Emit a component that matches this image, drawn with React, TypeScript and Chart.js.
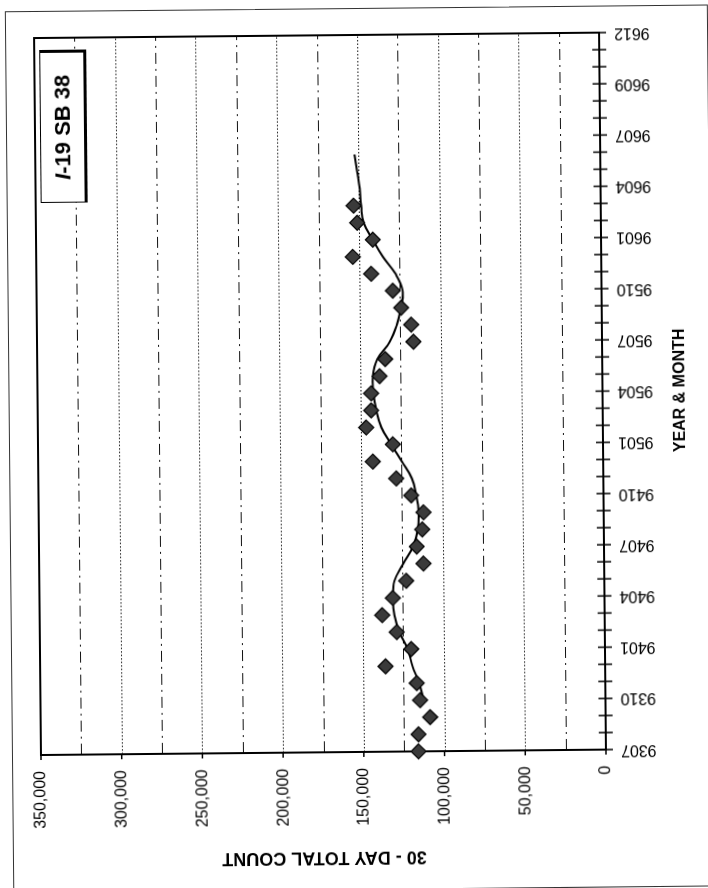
import React, { useEffect, useRef } from 'react';
import { Chart, registerables } from 'chart.js';

Chart.register(...registerables);

// ---- data ----
const MONTH_TICK_LABELS = ['9307', '9310', '9401', '9404', '9407', '9410', '9501', '9504', '9507', '9510', '9601', '9604', '9607', '9609', '9612'];
const MONTH_POSITIONS = 43; // month positions 0..42 on the category axis
const LABEL_EVERY = 3;

const COUNT_VALUES = [
  116100, 116000, 108700, 114800, 116800, 136000, 120000, 128900, 137800, 131100,
  122700, 111900, 116000, 112500, 111600, 119100, 128300, 142700, 130200, 146600,
  143400, 143300, 138000, 134400, 116800, 118100, 124200, 129300, 142600, 153900,
  141400, 151000, 153100,
];

const TREND_START = 3;
const TREND_VALUES = [
  112500, 115400, 119300, 122200, 127300, 130300, 131000, 130000, 124500, 118300,
  115200, 114600, 116000, 118600, 124800, 131200, 137200, 140200, 141900, 142200,
  139300, 131500, 127000, 124400, 123200, 127600, 135300, 141400, 147000, 148400,
  149200, 150700, 152200,
];

const VALUE_MAX = 350000;
const LABEL_STEP = 50000;
const GRID_STEP = 25000;

const Y_TITLE = '30 - DAY TOTAL COUNT';
const X_TITLE = 'YEAR & MONTH';
const SERIES_NAME = 'I-19 SB 38';

const FONT = '"Liberation Sans", Arial, sans-serif';
const DOTTED = [1.5, 2];
const DASH_DOT = [11, 5, 2, 5];

const framePlugin = {
  id: 'scanFrame',
  beforeDatasetsDraw(chart: any) {
    const { ctx, chartArea: a, scales } = chart;
    const xs = scales.x;
    const ys = scales.y;
    ctx.save();
    // value grid lines
    ctx.strokeStyle = '#111';
    ctx.lineWidth = 1;
    for (let v = GRID_STEP; v < VALUE_MAX; v += GRID_STEP) {
      const py = Math.round(ys.getPixelForValue(v)) + 0.5;
      ctx.setLineDash(v % LABEL_STEP === 0 ? DOTTED : DASH_DOT);
      ctx.beginPath();
      ctx.moveTo(a.left, py);
      ctx.lineTo(a.right, py);
      ctx.stroke();
    }
    ctx.setLineDash([]);
    ctx.strokeStyle = '#000';
    ctx.lineWidth = 1.5;
    // value axis ticks (outward)
    for (let v = 0; v <= VALUE_MAX; v += LABEL_STEP) {
      const py = ys.getPixelForValue(v);
      ctx.beginPath();
      ctx.moveTo(a.left - 5, py);
      ctx.lineTo(a.left, py);
      ctx.stroke();
    }
    // month ticks (crossing)
    for (let i = 0; i < MONTH_POSITIONS; i++) {
      const px = xs.getPixelForValue(i);
      ctx.beginPath();
      ctx.moveTo(px, a.bottom - 7);
      ctx.lineTo(px, a.bottom + 7);
      ctx.stroke();
    }
    // plot frame
    ctx.lineWidth = 2;
    ctx.strokeRect(a.left, a.top, a.right - a.left, a.bottom - a.top);
    ctx.restore();
  },
};

export default function App() {
  const ref = useRef<HTMLCanvasElement>(null);

  useEffect(() => {
    const canvas = ref.current;
    if (!canvas) return;
    const chart = new Chart(canvas, {
      type: 'scatter',
      data: {
        datasets: [
          {
            label: SERIES_NAME,
            data: COUNT_VALUES.map((v, i) => ({ x: i, y: v })),
            pointStyle: 'rectRot',
            pointRadius: 7.5,
            backgroundColor: '#3a3a3a',
            borderColor: '#000',
            borderWidth: 1.2,
            showLine: false,
            clip: false,
            order: 0,
          },
          {
            label: 'trend',
            data: TREND_VALUES.map((v, i) => ({ x: i + TREND_START, y: v })),
            showLine: true,
            pointRadius: 0,
            borderColor: '#000',
            borderWidth: 2,
            tension: 0.4,
            fill: false,
            clip: false,
            order: 1,
          },
        ],
      },
      options: {
        animation: false,
        responsive: false,
        devicePixelRatio: 1,
        events: [],
        layout: { padding: { left: 20, right: 35, top: 38, bottom: 18 } },
        plugins: {
          legend: { display: false },
          tooltip: { enabled: false },
        },
        scales: {
          x: {
            type: 'linear',
            min: 0,
            max: MONTH_POSITIONS - 1,
            grid: { display: false, drawTicks: false, tickLength: 0 },
            border: { display: false },
            ticks: {
              stepSize: LABEL_EVERY,
              autoSkip: false,
              minRotation: 90,
              maxRotation: 90,
              padding: 15,
              color: '#000',
              font: { family: FONT, size: 16 },
              callback: (value: any) => {
                const n = Number(value);
                if (n % LABEL_EVERY !== 0) return '';
                return MONTH_TICK_LABELS[Math.round(n / LABEL_EVERY)] ?? '';
              },
            },
            title: {
              display: true,
              text: X_TITLE,
              color: '#000',
              padding: 0,
              font: { family: FONT, size: 16, weight: 'bold' },
            },
            afterFit: (s: any) => {
              s.height = 87;
            },
          },
          y: {
            type: 'linear',
            min: 0,
            max: VALUE_MAX,
            grid: { display: false, drawTicks: false, tickLength: 0 },
            border: { display: false },
            ticks: {
              stepSize: LABEL_STEP,
              padding: 16,
              color: '#000',
              font: { family: FONT, size: 16 },
              callback: (value: any) => Number(value).toLocaleString('en-US'),
            },
            title: {
              display: true,
              text: Y_TITLE,
              color: '#000',
              padding: 0,
              font: { family: FONT, size: 18, weight: 'bold' },
            },
            afterFit: (s: any) => {
              s.width = 116;
            },
          },
        },
      },
      plugins: [framePlugin],
    } as any);
    return () => chart.destroy();
  }, []);

  return (
    <div style={{ position: 'absolute', left: 0, top: 0, width: 708, height: 888, overflow: 'hidden', background: '#fff' }}>
      <div
        style={{
          position: 'absolute',
          left: 0,
          top: 0,
          width: 708,
          height: 888,
          transform: 'rotate(-0.55deg)',
          transformOrigin: '354px 444px',
        }}
      >
        <div
          style={{
            position: 'absolute',
            left: 9,
            top: 8,
            width: 702.5,
            height: 882,
            border: '1px solid #333',
            boxSizing: 'border-box',
          }}
        />
        <div
          style={{
            position: 'absolute',
            left: 0,
            top: 0,
            width: 888,
            height: 708,
            transformOrigin: '0 0',
            transform: 'translate(0px, 888px) rotate(-90deg)',
          }}
        >
          <canvas ref={ref} width={888} height={708} style={{ display: 'block', width: 888, height: 708 }} />
          <div
            style={{
              position: 'absolute',
              left: 688,
              top: 43,
              width: 153,
              height: 47,
              boxSizing: 'border-box',
              borderStyle: 'solid',
              borderColor: '#000',
              borderWidth: '1px 3px 3px 1px',
              background: '#fff',
              display: 'flex',
              alignItems: 'center',
              justifyContent: 'center',
              fontFamily: FONT,
              fontWeight: 'bold',
              fontSize: 22,
              lineHeight: 1,
              color: '#000',
              whiteSpace: 'nowrap',
            }}
          >
            <span style={{ fontStyle: 'italic' }}>I</span>
            <span>-19 SB 38</span>
          </div>
        </div>
      </div>
    </div>
  );
}
